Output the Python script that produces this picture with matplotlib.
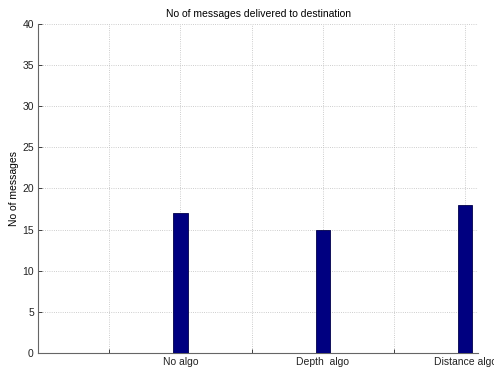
import matplotlib
matplotlib.use("Agg")
import matplotlib.pyplot as plt

plt.rcParams["font.family"] = ["Liberation Sans", "DejaVu Sans"]

# bar data
algos = ["No algo", "Depth  algo", "Distance algo"]
delivered = [17, 15, 18]
positions = [1, 2, 3]

# x ticks every half unit, only whole positions get a label
xticks = [0.5, 1, 1.5, 2, 2.5, 3]
xticklabels = ["", "No algo", "", "Depth  algo", "", "Distance algo"]
yticks = [0, 5, 10, 15, 20, 25, 30, 35, 40]

fig = plt.figure(figsize=(4.94, 3.67), dpi=100)
ax = fig.add_axes([0.077, 0.038, 0.891, 0.897])

ax.bar(positions, delivered, width=0.1, color="#000080", edgecolor="#00004a", linewidth=0.6, zorder=3)

ax.set_xlim(0, 3.09)
ax.set_ylim(0, 40)
ax.set_xticks(xticks)
ax.set_xticklabels(xticklabels, fontsize=7.5)
ax.set_yticks(yticks)
ax.set_yticklabels([str(v) for v in yticks], fontsize=7.5)
ax.tick_params(direction="in", length=3, width=0.6, pad=3, colors="#222222")

ax.grid(True, linestyle=":", color="#bdbdbd", linewidth=0.6)
ax.spines["top"].set_visible(False)
ax.spines["right"].set_visible(False)
ax.spines["left"].set_color("#666666")
ax.spines["bottom"].set_color("#666666")

ax.set_title("No of messages delivered to destination", fontsize=7.5, pad=5)
ax.set_ylabel("No of messages", fontsize=7.5, labelpad=2)

fig.savefig("out.png", dpi=100)
